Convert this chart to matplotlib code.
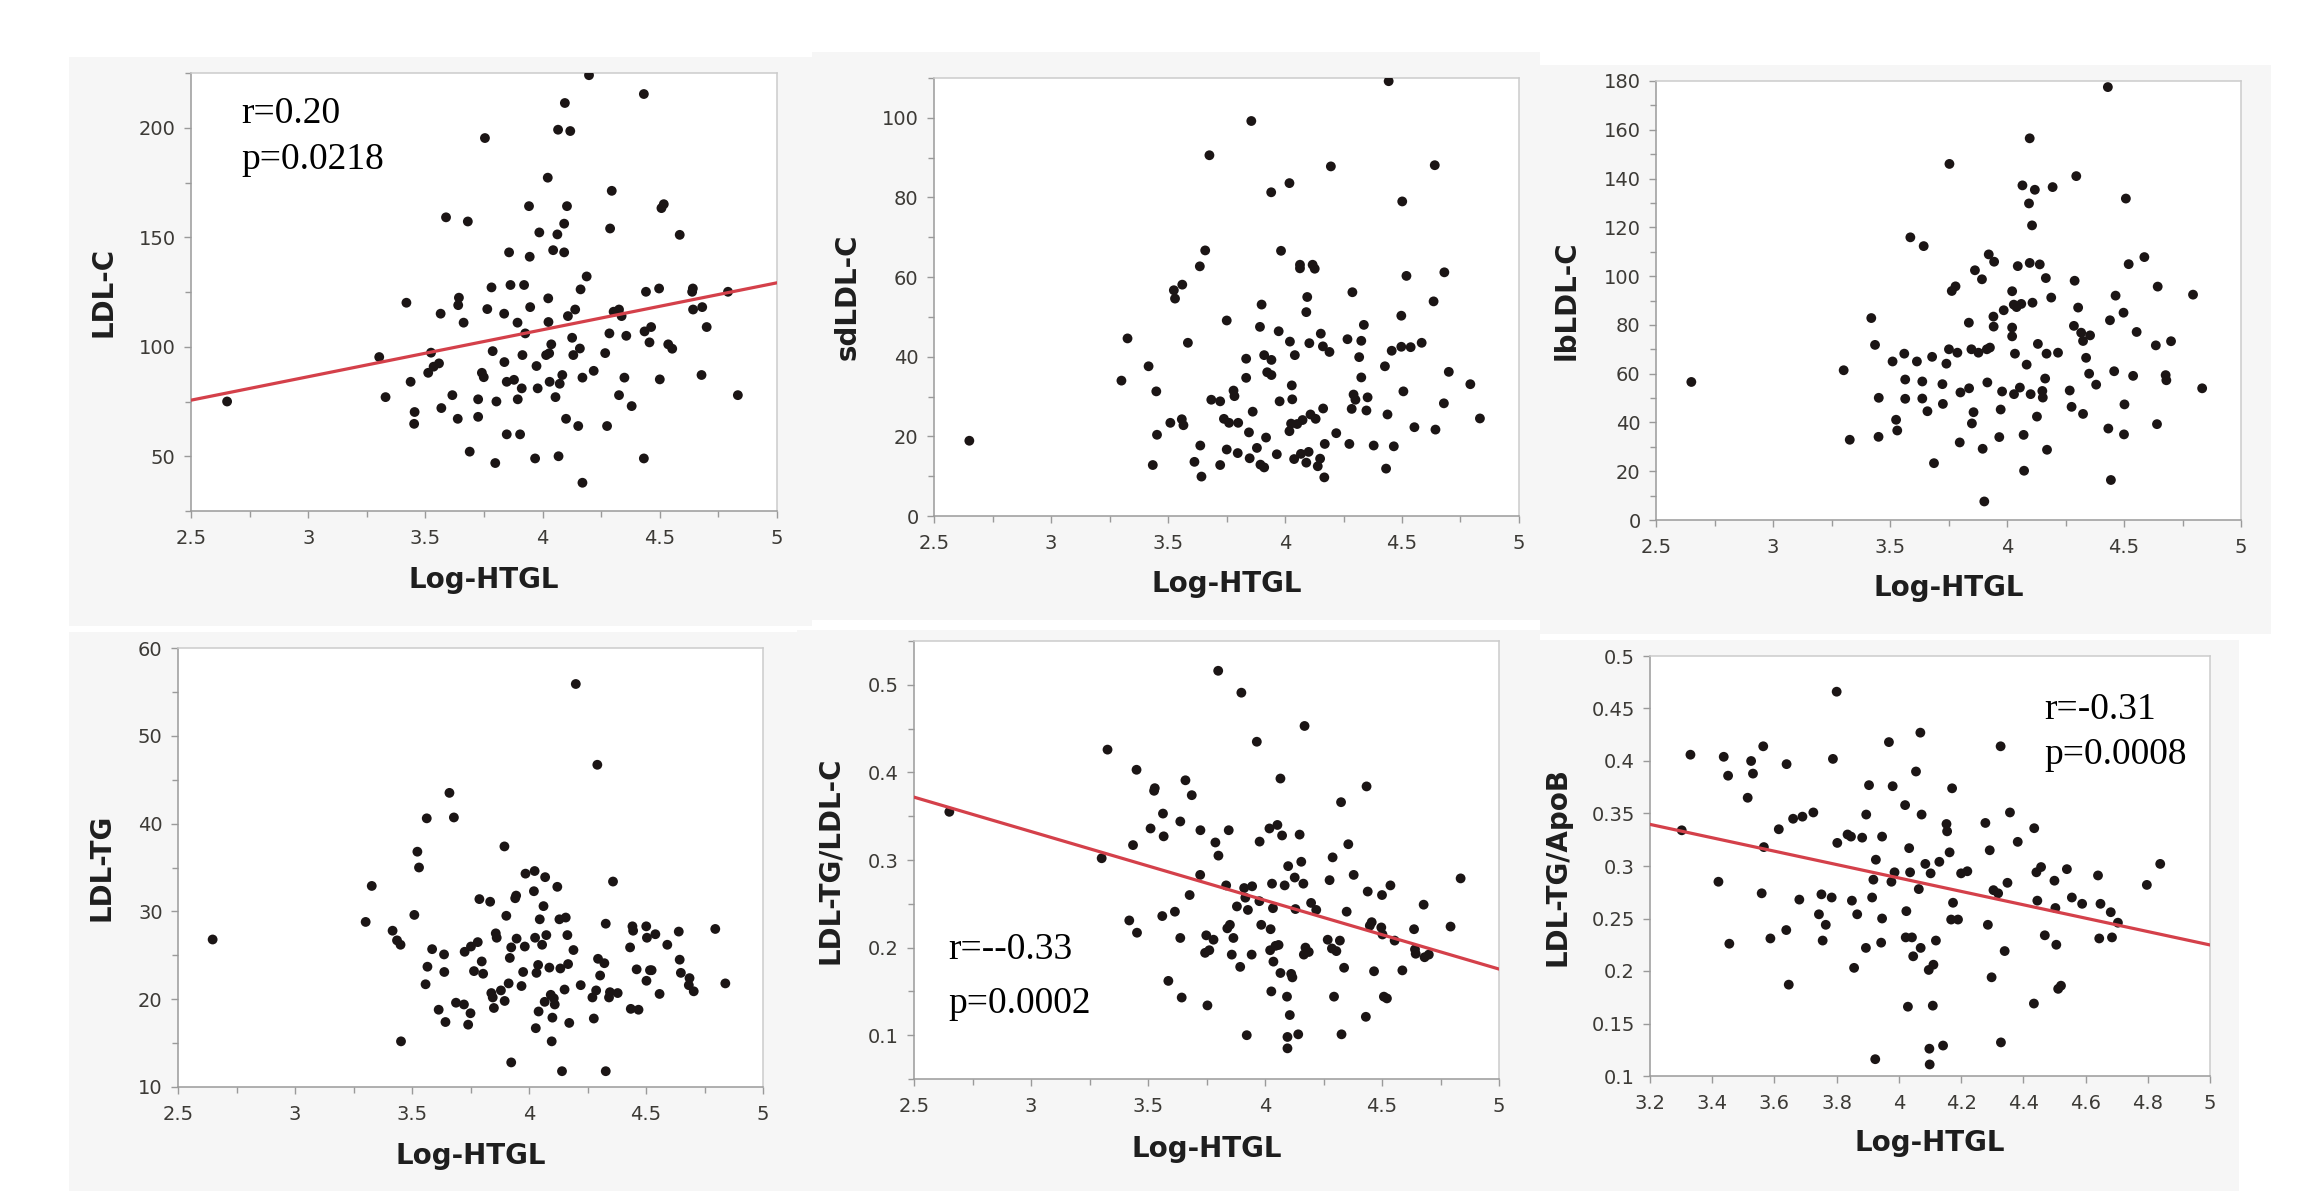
import matplotlib
matplotlib.use("Agg")
import numpy as np
import matplotlib.pyplot as plt
from matplotlib.patches import Rectangle
from matplotlib.ticker import MultipleLocator, FuncFormatter, NullLocator

# ---------------- data ----------------
x_label = "Log-HTGL"

ldlc_x = [2.654, 3.303, 3.330, 3.419, 3.437, 3.454, 3.452, 3.524, 3.512, 3.535, 3.558, 3.565, 3.568, 3.588,
          3.615, 3.643, 3.640, 3.663, 3.638, 3.681, 3.689, 3.725, 3.725, 3.754, 3.764, 3.782, 3.741, 3.749,
          3.787, 3.798, 3.803, 3.836, 3.837, 3.847, 3.857, 3.863, 3.847, 3.878, 3.893, 3.894, 3.904, 3.911,
          3.914, 3.921, 3.926, 3.942, 3.945, 3.947, 3.968, 3.974, 3.979, 3.986, 4.022, 4.024, 4.025, 4.015,
          4.030, 4.037, 4.028, 4.045, 4.063, 4.066, 4.068, 4.055, 4.073, 4.084, 4.092, 4.092, 4.095, 4.104,
          4.118, 4.100, 4.108, 4.126, 4.131, 4.139, 4.152, 4.159, 4.162, 4.170, 4.170, 4.188, 4.198, 4.218,
          4.267, 4.275, 4.285, 4.288, 4.295, 4.303, 4.326, 4.337, 4.326, 4.349, 4.357, 4.380, 4.432, 4.432,
          4.435, 4.441, 4.456, 4.463, 4.497, 4.500, 4.507, 4.517, 4.536, 4.553, 4.585, 4.638, 4.641, 4.642,
          4.678, 4.681, 4.700, 4.791, 4.833]
ldlc_y = [75.0, 95.3, 77.0, 120.1, 84.0, 70.2, 64.8, 97.3, 88.1, 90.9, 92.4, 115.1, 72.0, 159.1,
          77.9, 122.4, 119.0, 111.0, 67.1, 157.2, 52.1, 76.0, 68.0, 195.3, 117.2, 127.1, 88.1, 86.1,
          98.0, 46.9, 75.0, 115.1, 93.0, 84.0, 143.1, 128.2, 60.0, 84.9, 111.0, 76.0, 60.0, 81.0,
          96.2, 128.2, 106.1, 164.2, 141.1, 118.1, 49.0, 91.2, 81.0, 152.2, 177.2, 122.1, 111.3, 96.2,
          84.0, 101.1, 97.0, 144.1, 151.3, 199.1, 50.0, 77.0, 83.1, 87.1, 156.2, 143.1, 211.3, 164.2,
          198.5, 67.1, 114.0, 104.1, 96.2, 117.0, 63.8, 99.2, 126.2, 85.9, 37.9, 132.1, 224.0, 89.0,
          97.1, 63.8, 106.1, 154.0, 171.2, 116.0, 117.0, 114.0, 77.9, 85.9, 105.0, 72.9, 215.4, 49.0,
          107.0, 125.1, 102.0, 109.0, 126.6, 85.1, 163.3, 165.1, 101.1, 99.1, 151.1, 125.1, 126.6, 117.0,
          87.1, 118.1, 109.0, 125.1, 77.9]

sdldl_x = [2.651, 3.301, 3.327, 3.417, 3.435, 3.450, 3.453, 3.510, 3.525, 3.530, 3.561, 3.559, 3.566, 3.585,
           3.613, 3.636, 3.638, 3.643, 3.659, 3.677, 3.685, 3.723, 3.723, 3.751, 3.739, 3.761, 3.751, 3.780,
           3.784, 3.800, 3.798, 3.834, 3.834, 3.846, 3.849, 3.856, 3.862, 3.880, 3.893, 3.900, 3.895, 3.911,
           3.911, 3.924, 3.942, 3.941, 3.942, 3.919, 3.965, 3.973, 3.977, 3.983, 4.019, 4.021, 4.029, 4.031,
           4.019, 4.026, 4.039, 4.042, 4.052, 4.064, 4.064, 4.068, 4.075, 4.091, 4.095, 4.091, 4.101, 4.104,
           4.109, 4.118, 4.127, 4.131, 4.140, 4.150, 4.153, 4.162, 4.163, 4.168, 4.170, 4.190, 4.196, 4.219,
           4.267, 4.275, 4.285, 4.288, 4.293, 4.301, 4.317, 4.326, 4.326, 4.337, 4.348, 4.353, 4.379, 4.427,
           4.432, 4.438, 4.443, 4.456, 4.465, 4.497, 4.497, 4.501, 4.506, 4.519, 4.537, 4.553, 4.584, 4.635,
           4.640, 4.643, 4.679, 4.681, 4.700, 4.792, 4.833]
sdldl_y = [18.9, 34.0, 44.6, 37.6, 12.8, 31.3, 20.4, 23.4, 56.7, 54.6, 58.1, 24.3, 22.8, 43.5,
           13.6, 62.7, 17.7, 9.9, 66.7, 90.6, 29.2, 28.8, 12.8, 49.1, 24.4, 23.4, 16.7, 31.5,
           30.1, 23.4, 15.8, 39.5, 34.7, 21.0, 14.5, 99.2, 26.2, 17.1, 47.5, 53.1, 12.9, 40.4,
           12.2, 36.1, 39.2, 81.3, 35.4, 19.7, 15.5, 46.4, 28.8, 66.6, 83.6, 43.8, 32.8, 29.3,
           21.3, 23.2, 14.3, 40.4, 23.1, 63.1, 62.2, 15.6, 24.1, 51.2, 55.0, 13.4, 16.1, 43.4,
           25.5, 63.1, 62.1, 24.4, 12.5, 14.4, 45.8, 42.6, 27.0, 9.7, 18.1, 41.2, 87.8, 20.8,
           44.4, 18.1, 26.9, 56.2, 30.5, 29.2, 39.9, 44.0, 34.8, 48.0, 26.5, 29.8, 17.7, 37.6,
           11.9, 25.5, 109.2, 41.5, 17.5, 50.3, 42.5, 79.0, 31.3, 60.3, 42.4, 22.3, 43.5, 53.9,
           88.1, 21.7, 28.3, 61.2, 36.2, 33.1, 24.5]

lbldl_x = [2.651, 3.302, 3.328, 3.420, 3.436, 3.452, 3.451, 3.511, 3.526, 3.531, 3.561, 3.565, 3.565, 3.587,
           3.615, 3.638, 3.638, 3.644, 3.660, 3.680, 3.688, 3.724, 3.726, 3.741, 3.752, 3.754, 3.764, 3.780,
           3.788, 3.798, 3.801, 3.837, 3.838, 3.848, 3.857, 3.850, 3.863, 3.878, 3.893, 3.896, 3.903, 3.914,
           3.916, 3.922, 3.927, 3.942, 3.943, 3.945, 3.967, 3.973, 3.979, 3.986, 4.022, 4.022, 4.022, 4.034,
           4.030, 4.029, 4.041, 4.046, 4.055, 4.061, 4.066, 4.071, 4.073, 4.084, 4.094, 4.097, 4.097, 4.101,
           4.107, 4.109, 4.119, 4.128, 4.132, 4.140, 4.151, 4.153, 4.163, 4.166, 4.169, 4.171, 4.189, 4.195,
           4.218, 4.268, 4.276, 4.286, 4.289, 4.296, 4.304, 4.317, 4.325, 4.325, 4.338, 4.351, 4.355, 4.381,
           4.433, 4.431, 4.440, 4.444, 4.458, 4.464, 4.498, 4.500, 4.502, 4.508, 4.520, 4.539, 4.554, 4.587,
           4.636, 4.641, 4.644, 4.678, 4.681, 4.701, 4.795, 4.834]
lbldl_y = [56.6, 61.4, 32.9, 82.8, 71.8, 50.1, 34.1, 65.0, 41.1, 36.7, 68.2, 57.6, 49.7, 115.9,
           65.0, 56.8, 49.8, 112.3, 44.6, 66.9, 23.3, 55.7, 47.6, 64.1, 70.0, 146.0, 93.9, 95.8,
           68.6, 31.8, 52.3, 80.9, 54.0, 70.0, 44.2, 39.6, 102.4, 68.6, 98.7, 29.2, 7.6, 70.0,
           56.4, 108.9, 70.7, 83.4, 79.3, 105.9, 34.0, 45.3, 52.7, 86.0, 93.8, 78.9, 75.3, 68.2,
           51.6, 88.3, 87.3, 104.1, 54.3, 88.6, 137.2, 34.9, 20.2, 63.7, 129.8, 156.5, 105.4, 51.6,
           120.8, 89.1, 135.4, 42.4, 72.2, 104.8, 52.9, 50.2, 58.0, 99.2, 68.2, 28.8, 91.2, 136.5,
           68.6, 53.1, 46.4, 79.6, 98.1, 141.0, 87.1, 76.8, 73.4, 43.5, 66.5, 60.0, 75.7, 55.5,
           37.5, 177.5, 81.9, 16.4, 61.0, 92.0, 85.0, 35.1, 47.4, 131.8, 104.9, 59.1, 77.1, 107.8,
           71.6, 39.3, 95.7, 59.4, 57.3, 73.3, 92.4, 54.0]

ldltg_x = [2.648, 3.302, 3.328, 3.417, 3.436, 3.451, 3.453, 3.510, 3.523, 3.530, 3.563, 3.558, 3.566, 3.586,
           3.614, 3.637, 3.638, 3.643, 3.660, 3.679, 3.688, 3.722, 3.725, 3.740, 3.750, 3.752, 3.765, 3.781,
           3.788, 3.798, 3.804, 3.834, 3.839, 3.845, 3.850, 3.858, 3.862, 3.880, 3.895, 3.896, 3.903, 3.913,
           3.918, 3.924, 3.924, 3.941, 3.945, 3.947, 3.968, 3.975, 3.982, 3.985, 4.021, 4.024, 4.026, 4.029,
           4.032, 4.039, 4.041, 4.046, 4.056, 4.062, 4.069, 4.074, 4.067, 4.087, 4.093, 4.097, 4.100, 4.106,
           4.110, 4.121, 4.130, 4.134, 4.141, 4.152, 4.157, 4.164, 4.167, 4.172, 4.190, 4.200, 4.221, 4.271,
           4.277, 4.287, 4.292, 4.295, 4.304, 4.322, 4.328, 4.328, 4.342, 4.346, 4.359, 4.379, 4.432, 4.435,
           4.442, 4.445, 4.460, 4.468, 4.501, 4.502, 4.504, 4.517, 4.524, 4.540, 4.558, 4.591, 4.640, 4.644,
           4.649, 4.686, 4.683, 4.704, 4.796, 4.839]
ldltg_y = [26.8, 28.8, 32.9, 27.8, 26.7, 26.2, 15.2, 29.6, 36.8, 35.0, 40.6, 21.7, 23.7, 25.7,
           18.8, 25.1, 23.1, 17.4, 43.5, 40.7, 19.6, 19.4, 25.4, 17.1, 18.4, 26.0, 23.2, 26.5,
           31.4, 24.3, 22.9, 31.1, 20.7, 20.2, 19.0, 27.5, 27.0, 21.0, 37.4, 19.8, 29.5, 21.8,
           24.7, 25.9, 12.8, 31.5, 31.8, 26.9, 21.5, 23.1, 26.0, 34.3, 32.3, 34.6, 27.0, 16.7,
           23.0, 23.9, 18.6, 29.1, 26.2, 30.6, 33.9, 27.3, 19.7, 23.6, 20.5, 15.2, 17.9, 20.1,
           19.4, 32.8, 29.1, 23.5, 11.8, 21.1, 29.3, 27.3, 24.0, 17.3, 25.6, 55.9, 21.6, 20.2,
           17.8, 21.0, 46.7, 24.6, 22.7, 24.1, 28.6, 11.8, 20.2, 20.8, 33.4, 20.7, 25.9, 18.9,
           28.3, 27.8, 23.4, 18.8, 28.3, 22.1, 27.0, 23.3, 23.3, 27.4, 20.6, 26.2, 27.7, 24.5,
           23.0, 22.4, 21.6, 20.9, 28.0, 21.8]

ratio_c_x = [2.651, 3.302, 3.327, 3.420, 3.436, 3.451, 3.453, 3.511, 3.526, 3.529, 3.561, 3.564, 3.567, 3.587,
             3.615, 3.638, 3.638, 3.644, 3.660, 3.678, 3.687, 3.724, 3.723, 3.749, 3.744, 3.754, 3.762, 3.780,
             3.788, 3.800, 3.801, 3.834, 3.839, 3.845, 3.850, 3.858, 3.865, 3.880, 3.894, 3.899, 3.911, 3.916,
             3.922, 3.927, 3.943, 3.945, 3.965, 3.976, 3.977, 3.984, 4.019, 4.024, 4.022, 4.027, 4.030, 4.034,
             4.036, 4.045, 4.053, 4.058, 4.066, 4.066, 4.073, 4.084, 4.094, 4.096, 4.096, 4.099, 4.106, 4.112,
             4.117, 4.127, 4.130, 4.142, 4.148, 4.155, 4.164, 4.166, 4.169, 4.173, 4.187, 4.197, 4.219, 4.268,
             4.276, 4.286, 4.289, 4.295, 4.305, 4.320, 4.325, 4.327, 4.338, 4.349, 4.356, 4.379, 4.431, 4.434,
             4.439, 4.448, 4.456, 4.466, 4.497, 4.500, 4.502, 4.508, 4.521, 4.536, 4.554, 4.587, 4.637, 4.641,
             4.644, 4.678, 4.682, 4.700, 4.793, 4.836]
ratio_c_y = [0.355, 0.302, 0.426, 0.231, 0.317, 0.403, 0.217, 0.336, 0.379, 0.382, 0.236, 0.353, 0.327, 0.162,
             0.241, 0.344, 0.211, 0.143, 0.391, 0.260, 0.374, 0.334, 0.283, 0.214, 0.194, 0.134, 0.197, 0.209,
             0.320, 0.516, 0.305, 0.271, 0.222, 0.334, 0.226, 0.192, 0.211, 0.247, 0.178, 0.491, 0.268, 0.257,
             0.100, 0.243, 0.192, 0.270, 0.435, 0.253, 0.321, 0.226, 0.336, 0.221, 0.197, 0.150, 0.273, 0.245,
             0.184, 0.202, 0.340, 0.203, 0.393, 0.171, 0.328, 0.271, 0.144, 0.098, 0.085, 0.293, 0.123, 0.170,
             0.166, 0.280, 0.244, 0.101, 0.329, 0.298, 0.273, 0.192, 0.453, 0.200, 0.195, 0.251, 0.243, 0.209,
             0.277, 0.199, 0.303, 0.144, 0.196, 0.208, 0.366, 0.101, 0.177, 0.241, 0.318, 0.283, 0.121, 0.384,
             0.264, 0.225, 0.229, 0.173, 0.223, 0.260, 0.215, 0.144, 0.142, 0.271, 0.208, 0.174, 0.221, 0.198,
             0.193, 0.249, 0.189, 0.192, 0.224, 0.279]

ratio_b_x = [3.302, 3.330, 3.420, 3.437, 3.451, 3.455, 3.514, 3.525, 3.531, 3.559, 3.564, 3.566, 3.587, 3.614,
             3.639, 3.638, 3.646, 3.660, 3.680, 3.690, 3.725, 3.743, 3.751, 3.755, 3.765, 3.784, 3.788, 3.800,
             3.802, 3.835, 3.849, 3.846, 3.856, 3.866, 3.882, 3.895, 3.894, 3.904, 3.914, 3.918, 3.926, 3.943,
             3.946, 3.946, 3.924, 3.968, 3.976, 3.980, 3.986, 4.020, 4.024, 4.022, 4.029, 4.033, 4.036, 4.042,
             4.046, 4.055, 4.064, 4.069, 4.070, 4.073, 4.085, 4.096, 4.098, 4.099, 4.102, 4.109, 4.111, 4.119,
             4.130, 4.142, 4.153, 4.155, 4.163, 4.168, 4.171, 4.174, 4.190, 4.200, 4.220, 4.278, 4.286, 4.292,
             4.298, 4.304, 4.319, 4.327, 4.328, 4.340, 4.349, 4.357, 4.382, 4.434, 4.435, 4.442, 4.445, 4.457,
             4.469, 4.500, 4.503, 4.506, 4.512, 4.521, 4.540, 4.556, 4.589, 4.640, 4.644, 4.648, 4.681, 4.685,
             4.704, 4.797, 4.840]
ratio_b_y = [0.334, 0.406, 0.285, 0.404, 0.386, 0.226, 0.365, 0.400, 0.388, 0.274, 0.414, 0.318, 0.231, 0.335,
             0.397, 0.239, 0.187, 0.345, 0.268, 0.347, 0.351, 0.254, 0.273, 0.229, 0.244, 0.270, 0.402, 0.466,
             0.322, 0.330, 0.267, 0.328, 0.203, 0.254, 0.327, 0.349, 0.222, 0.377, 0.270, 0.287, 0.306, 0.227,
             0.250, 0.328, 0.116, 0.418, 0.285, 0.376, 0.294, 0.358, 0.257, 0.232, 0.166, 0.317, 0.294, 0.232,
             0.214, 0.390, 0.278, 0.427, 0.222, 0.349, 0.302, 0.201, 0.126, 0.111, 0.293, 0.167, 0.206, 0.229,
             0.304, 0.129, 0.340, 0.333, 0.313, 0.249, 0.374, 0.265, 0.249, 0.293, 0.295, 0.341, 0.244, 0.315,
             0.194, 0.277, 0.274, 0.414, 0.132, 0.219, 0.284, 0.351, 0.323, 0.169, 0.336, 0.294, 0.267, 0.299,
             0.234, 0.286, 0.260, 0.225, 0.183, 0.186, 0.297, 0.270, 0.264, 0.291, 0.231, 0.264, 0.256, 0.232,
             0.246, 0.282, 0.302]

# regression lines: (slope, intercept)
fit_ldlc = (21.44, 22.0)
fit_ratio_c = (-0.0785, 0.568)
fit_ratio_b = (-0.0638, 0.5438)

stats_ldlc = ["r=0.20", "p=0.0218"]
stats_ratio_c = ["r=--0.33", "p=0.0002"]
stats_ratio_b = ["r=-0.31", "p=0.0008"]

# ---------------- layout helpers ----------------
W, H = 2300, 1194
fig = plt.figure(figsize=(W / 100, H / 100), dpi=100)
fig.patch.set_facecolor("white")


def rect(x0, x1, y0, y1):
    return [x0 / W, 1 - y1 / H, (x1 - x0) / W, (y1 - y0) / H]


BG = "#f6f6f6"
for (x0, x1, y0, y1) in [(69, 812, 57, 626), (812, 1540, 52, 620), (1540, 2271, 65, 634),
                         (69, 797, 632, 1191), (797, 1540, 630, 1191), (1530, 2239, 640, 1191)]:
    fig.add_artist(Rectangle((x0 / W, 1 - y1 / H), (x1 - x0) / W, (y1 - y0) / H,
                             transform=fig.transFigure, facecolor=BG, edgecolor="none", zorder=0))

TICK_COLOR = "#3c3a36"
fmt = FuncFormatter(lambda v, p: f"{v:g}")

panels = [
    dict(box=(191, 777, 73, 511), x=ldlc_x, y=ldlc_y, ylabel="LDL-C",
         xlim=(2.5, 5), ylim=(25, 225), xmaj=0.5, xmin=0.25, ymaj=50, ymin=25,
         fit=fit_ldlc, stats=stats_ldlc, spos=(0.086, 0.886, 0.781),
         ylc=-0.125, xlc=-0.126),
    dict(box=(934, 1519, 78, 516), x=sdldl_x, y=sdldl_y, ylabel="sdLDL-C",
         xlim=(2.5, 5), ylim=(0, 110), xmaj=0.5, xmin=0.25, ymaj=20, ymin=10,
         fit=None, stats=None, spos=None, ylc=-0.123, xlc=-0.123),
    dict(box=(1656, 2241, 81, 520), x=lbldl_x, y=lbldl_y, ylabel="lbLDL-C",
         xlim=(2.5, 5), ylim=(0, 180), xmaj=0.5, xmin=0.25, ymaj=20, ymin=10,
         fit=None, stats=None, spos=None, ylc=-0.128, xlc=-0.123),
    dict(box=(178, 763, 648, 1087), x=ldltg_x, y=ldltg_y, ylabel="LDL-TG",
         xlim=(2.5, 5), ylim=(10, 60), xmaj=0.5, xmin=0.25, ymaj=10, ymin=5,
         fit=None, stats=None, spos=None, ylc=-0.106, xlc=-0.125),
    dict(box=(914, 1499, 641, 1079), x=ratio_c_x, y=ratio_c_y, ylabel="LDL-TG/LDL-C",
         xlim=(2.5, 5), ylim=(0.05, 0.55), xmaj=0.5, xmin=0.25, ymaj=0.1, ymin=0.05,
         fit=fit_ratio_c, stats=stats_ratio_c, spos=(0.058, 0.275, 0.151),
         ylc=-0.12, xlc=-0.128),
    dict(box=(1650, 2210, 656, 1076), x=ratio_b_x, y=ratio_b_y, ylabel="LDL-TG/ApoB",
         xlim=(3.2, 5), ylim=(0.1, 0.5), xmaj=0.2, xmin=None, ymaj=0.05, ymin=None,
         fit=fit_ratio_b, stats=stats_ratio_b, spos=(0.704, 0.849, 0.742),
         ylc=-0.141, xlc=-0.126),
]

for p in panels:
    assert len(p["x"]) == len(p["y"]), p["ylabel"]
    ax = fig.add_axes(rect(*p["box"]))
    ax.set_facecolor("white")
    ax.set_zorder(2)
    ax.scatter(p["x"], p["y"], s=50, color="#1b1515", edgecolors="none", zorder=3)
    if p["fit"] is not None:
        m, b = p["fit"]
        ax.axline((0, b), slope=m, color="#d4404a", lw=2.3, zorder=4)
    ax.set_xlim(*p["xlim"])
    ax.set_ylim(*p["ylim"])
    ax.xaxis.set_major_locator(MultipleLocator(p["xmaj"]))
    ax.yaxis.set_major_locator(MultipleLocator(p["ymaj"]))
    ax.xaxis.set_minor_locator(MultipleLocator(p["xmin"]) if p["xmin"] else NullLocator())
    ax.yaxis.set_minor_locator(MultipleLocator(p["ymin"]) if p["ymin"] else NullLocator())
    ax.xaxis.set_major_formatter(fmt)
    ax.yaxis.set_major_formatter(fmt)
    ax.tick_params(which="both", direction="out", color="#9a9a9a", width=1.0)
    ax.tick_params(which="major", length=5, labelsize=14, labelcolor=TICK_COLOR)
    ax.tick_params(axis="x", which="major", pad=8)
    ax.tick_params(axis="y", which="major", pad=6)
    ax.tick_params(which="minor", length=4)
    for side in ("left", "bottom"):
        ax.spines[side].set_color("#9a9a9a")
        ax.spines[side].set_linewidth(1.1)
    for side in ("top", "right"):
        ax.spines[side].set_color("#cccccc")
        ax.spines[side].set_linewidth(1.1)
    ax.set_xlabel(x_label, fontsize=20, fontweight="bold", color="#1e1e1e")
    ax.set_ylabel(p["ylabel"], fontsize=20, fontweight="bold", color="#1e1e1e")
    ax.xaxis.set_label_coords(0.5, p["xlc"])
    ax.yaxis.set_label_coords(p["ylc"], 0.5)
    if p["stats"] is not None:
        sx, sy1, sy2 = p["spos"]
        for txt, sy in zip(p["stats"], (sy1, sy2)):
            ax.text(sx, sy, txt, transform=ax.transAxes, fontsize=27,
                    family=["Liberation Serif", "DejaVu Serif"], color="black",
                    ha="left", va="baseline", zorder=5)

fig.savefig("out.png", dpi=100, facecolor="white")
